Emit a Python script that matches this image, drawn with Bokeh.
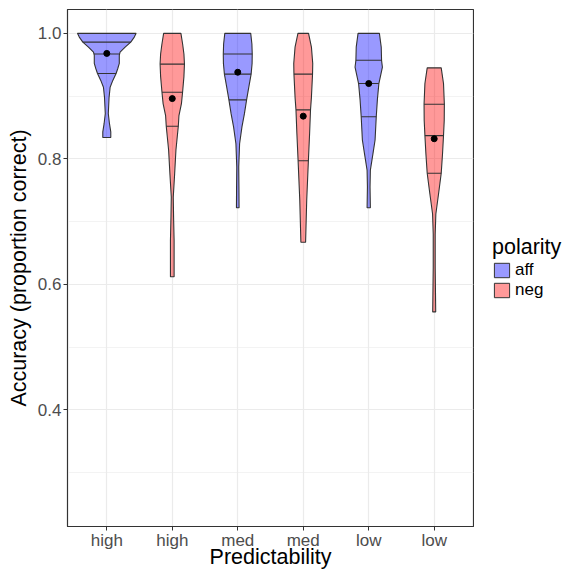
import numpy as np
from bokeh.plotting import figure
from bokeh.layouts import row
from bokeh.models import Range1d, FixedTicker, Legend, LegendItem
from bokeh.embed import file_html
from bokeh.resources import INLINE

# ---- data ----
categories = ["high", "high", "med", "med", "low", "low"]
polarity = ["aff", "neg", "aff", "neg", "aff", "neg"]
means = [0.968, 0.896, 0.938, 0.868, 0.920, 0.832]
q75 = [0.986, 0.951, 0.967, 0.935, 0.957, 0.887]
q50 = [0.967, 0.906, 0.935, 0.878, 0.920, 0.837]
q25 = [0.936, 0.852, 0.894, 0.797, 0.867, 0.777]

# violin density profiles (accuracy value, half width in category units)
high_aff_y = [1.000, 0.994, 0.986, 0.978, 0.970, 0.965, 0.952, 0.944, 0.936, 0.925, 0.914, 0.898, 0.872, 0.856, 0.843, 0.834]
high_aff_w = [0.448, 0.420, 0.366, 0.280, 0.203, 0.191, 0.191, 0.168, 0.142, 0.092, 0.051, 0.035, 0.023, 0.041, 0.061, 0.061]
high_neg_y = [1.000, 0.983, 0.967, 0.951, 0.931, 0.907, 0.888, 0.869, 0.852, 0.814, 0.776, 0.739, 0.707, 0.670, 0.612]
high_neg_w = [0.132, 0.158, 0.178, 0.186, 0.178, 0.158, 0.140, 0.102, 0.092, 0.056, 0.036, 0.015, 0.020, 0.028, 0.028]
med_aff_y = [1.000, 0.983, 0.967, 0.952, 0.935, 0.914, 0.894, 0.872, 0.851, 0.824, 0.787, 0.755, 0.722]
med_aff_w = [0.198, 0.216, 0.221, 0.219, 0.204, 0.168, 0.135, 0.102, 0.064, 0.028, 0.015, 0.018, 0.020]
med_neg_y = [1.000, 0.978, 0.952, 0.935, 0.898, 0.878, 0.840, 0.798, 0.734, 0.667]
med_neg_w = [0.081, 0.125, 0.145, 0.142, 0.125, 0.111, 0.097, 0.079, 0.053, 0.036]
low_aff_y = [1.000, 0.978, 0.957, 0.946, 0.920, 0.894, 0.867, 0.830, 0.809, 0.782, 0.755, 0.722]
low_aff_w = [0.163, 0.191, 0.196, 0.209, 0.155, 0.132, 0.115, 0.097, 0.066, 0.025, 0.020, 0.025]
low_neg_y = [0.945, 0.920, 0.887, 0.861, 0.837, 0.808, 0.777, 0.744, 0.712, 0.680, 0.627, 0.556]
low_neg_w = [0.107, 0.142, 0.155, 0.153, 0.142, 0.127, 0.107, 0.066, 0.025, 0.015, 0.015, 0.023]

profiles = [(high_aff_y, high_aff_w), (high_neg_y, high_neg_w),
            (med_aff_y, med_aff_w), (med_neg_y, med_neg_w),
            (low_aff_y, low_aff_w), (low_neg_y, low_neg_w)]

y_ticks = [0.4, 0.6, 0.8, 1.0]
y_minor = [0.3, 0.5, 0.7, 0.9]
legend_levels = ["aff", "neg"]

colors = {"aff": "#0000FF", "neg": "#FF0000"}
FONT = "Liberation Sans"
EDGE = "#333333"

p = figure(width=474, height=577, output_backend="svg", toolbar_location=None,
           x_range=Range1d(0.4, 6.6), y_range=Range1d(0.214, 1.038),
           min_border_left=67, min_border_right=1, min_border_top=9, min_border_bottom=51)
p.background_fill_color = "white"
p.border_fill_color = "white"
p.outline_line_color = EDGE
p.outline_line_width = 1.2

positions = list(range(1, len(categories) + 1))
for i, (ys, ws) in enumerate(profiles):
    c = positions[i]
    ys = np.array(ys)
    ws = np.array(ws)
    xs = np.concatenate([c + ws, (c - ws)[::-1]])
    yy = np.concatenate([ys, ys[::-1]])
    p.patch(xs, yy, fill_color=colors[polarity[i]], fill_alpha=0.4,
            line_color=EDGE, line_width=1.1)
    yinc = ys[::-1]
    winc = ws[::-1]
    for q in (q25[i], q50[i], q75[i]):
        hw = float(np.interp(q, yinc, winc))
        p.line([c - hw, c + hw], [q, q], line_color=EDGE, line_width=1.1)
p.scatter(positions, means, size=6, color="black")

# axes
p.xaxis.ticker = FixedTicker(ticks=positions)
p.xaxis.major_label_overrides = {pos: lab for pos, lab in zip(positions, categories)}
p.yaxis.ticker = FixedTicker(ticks=y_ticks, minor_ticks=y_minor)
p.yaxis.major_label_overrides = {t: f"{t:.1f}" for t in y_ticks}
for ax in (p.xaxis, p.yaxis):
    ax.axis_line_color = EDGE
    ax.major_tick_line_color = EDGE
    ax.major_tick_out = 4
    ax.major_tick_in = 0
    ax.minor_tick_line_color = None
    ax.major_label_text_font = FONT
    ax.major_label_text_font_size = "17px"
    ax.major_label_text_color = "#4D4D4D"
    ax.axis_label_text_font = FONT
    ax.axis_label_text_font_size = "21.5px"
    ax.axis_label_text_font_style = "normal"
    ax.axis_label_text_color = "black"
p.xaxis.axis_label = "Predictability"
p.yaxis.axis_label = "Accuracy (proportion correct)"
p.xaxis.major_label_standoff = 0
p.xaxis.axis_label_standoff = -8
p.yaxis.major_label_standoff = 2
p.yaxis.axis_label_standoff = 4

p.xgrid.ticker = FixedTicker(ticks=positions)
p.xgrid.grid_line_color = "#EBEBEB"
p.xgrid.grid_line_width = 1.2
p.ygrid.grid_line_color = "#EBEBEB"
p.ygrid.grid_line_width = 1.2
p.ygrid.minor_grid_line_color = "#EBEBEB"
p.ygrid.minor_grid_line_width = 0.6

# legend panel to the right of the plot
lg = figure(width=94, height=577, output_backend="svg", toolbar_location=None,
            x_range=Range1d(0, 1), y_range=Range1d(0, 1),
            x_axis_type=None, y_axis_type=None,
            min_border_left=0, min_border_right=0, min_border_top=0, min_border_bottom=0)
lg.outline_line_color = None
lg.background_fill_color = "white"
lg.border_fill_color = "white"
items = []
for lev in legend_levels:
    r = lg.patch([np.nan], [np.nan], fill_color=colors[lev], fill_alpha=0.4,
                 line_color=EDGE, line_width=1)
    items.append(LegendItem(label=lev, renderers=[r]))
legend = Legend(items=items, location=(18, 226), title="polarity", margin=0, padding=0,
                border_line_color=None, background_fill_alpha=0,
                title_text_font=FONT, title_text_font_size="21.5px", title_text_font_style="normal",
                title_text_color="black",
                title_standoff=0, label_text_font=FONT, label_text_font_size="17px",
                label_text_color="black",
                glyph_width=19, glyph_height=18, label_height=18, label_standoff=4, spacing=0)
lg.add_layout(legend, "center")

open("out.html", "w").write(file_html(row(p, lg, spacing=0), INLINE))
